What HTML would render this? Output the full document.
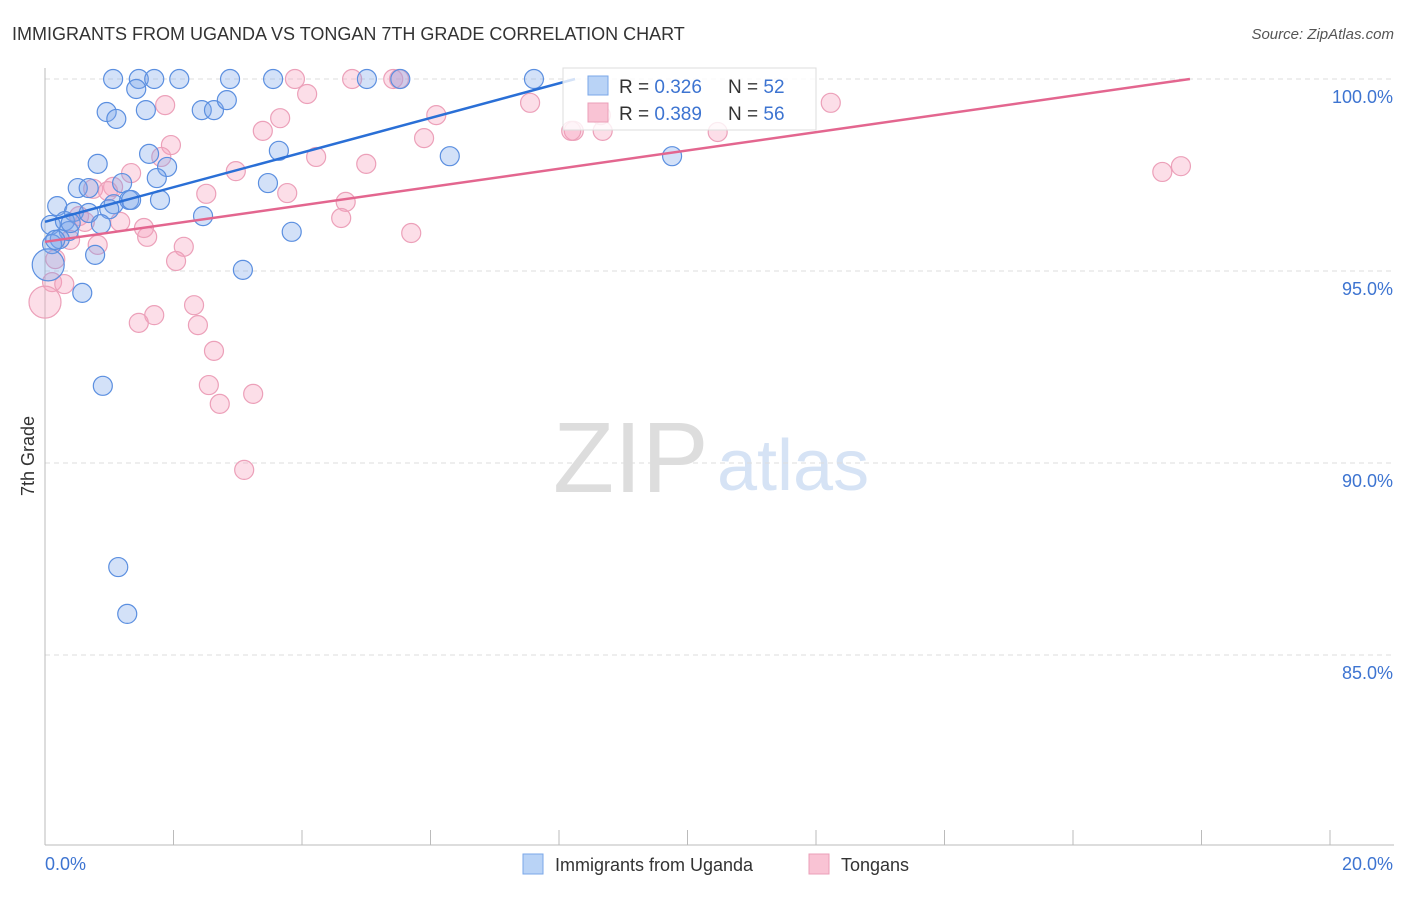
<!DOCTYPE html>
<html><head><meta charset="utf-8"><style>
body{margin:0;background:#fff;font-family:"Liberation Sans",sans-serif;}
svg text{font-family:"Liberation Sans",sans-serif;}
</style></head><body>
<svg width="1406" height="892" xmlns="http://www.w3.org/2000/svg">
<text x="12" y="40" font-size="18" fill="#333">IMMIGRANTS FROM UGANDA VS TONGAN 7TH GRADE CORRELATION CHART</text>
<text x="1394" y="39" font-size="15" fill="#555" font-style="italic" text-anchor="end">Source: ZipAtlas.com</text>
<g>
<text x="553" y="492" font-size="100" fill="#ddd" font-family="Liberation Serif, serif">ZIP</text>
<text x="717" y="490" font-size="72" fill="#d6e3f5">atlas</text>
</g>
<g id="grid"></g>
<g id="axes"></g>
<g id="marks"></g>
<text x="34" y="456" font-size="18" fill="#333" transform="rotate(-90 34 456)" text-anchor="middle">7th Grade</text>
<g>
<rect x="563" y="68" width="253" height="62" fill="#fff" fill-opacity="0.8" stroke="#ddd"/>
<rect x="588" y="76" width="20" height="19" fill="#b9d3f6" stroke="#7aa7e8"/>
<rect x="588" y="103" width="20" height="19" fill="#f9c3d4" stroke="#eb9fb8"/>
<text x="619" y="93" font-size="19" fill="#333">R = <tspan fill="#3d74d1">0.326</tspan></text>
<text x="728" y="93" font-size="19" fill="#333">N = <tspan fill="#3d74d1">52</tspan></text>
<text x="619" y="120" font-size="19" fill="#333">R = <tspan fill="#3d74d1">0.389</tspan></text>
<text x="728" y="120" font-size="19" fill="#333">N = <tspan fill="#3d74d1">56</tspan></text>
</g>
<g>
<rect x="523" y="854" width="20" height="20" fill="#b9d3f6" stroke="#7aa7e8"/>
<text x="555" y="871" font-size="18" fill="#333">Immigrants from Uganda</text>
<rect x="809" y="854" width="20" height="20" fill="#f9c3d4" stroke="#eb9fb8"/>
<text x="841" y="871" font-size="18" fill="#333">Tongans</text>
</g>
</svg>
<script>
const xTicks=[0,2,4,6,8,10,12,14,16,18,20];
const yTicks=[100,95,90,85];
const yTickLabels=["100.0%","95.0%","90.0%","85.0%"];
const ugX=[1.06,1.46,1.70,2.09,2.88,3.55,5.01,5.53,7.61,1.42,0.96,1.11,1.57,2.44,2.63,2.83,1.62,0.82,1.90,1.74,3.64,6.30,9.76,0.51,1.20,3.47,0.68,1.07,1.31,1.79,0.19,0.45,0.68,1.00,2.46,0.09,0.31,0.87,0.37,0.23,0.11,0.78,3.84,3.08,0.58,0.90,1.14,1.28,0.05,0.40,1.34,0.16];
const ugY=[100,100,100,100,100,100,100,100,100,99.74,99.14,98.96,99.19,99.19,99.19,99.45,98.05,97.79,97.71,97.42,98.13,97.99,97.99,97.16,97.29,97.29,97.16,96.74,96.85,96.85,96.69,96.54,96.51,96.61,96.43,96.20,96.30,96.22,96.04,95.83,95.70,95.42,96.02,95.03,94.43,92.01,87.29,86.07,95.16,96.25,96.85,95.81];
const toX=[3.89,4.78,5.42,5.51,1.87,4.08,7.55,12.23,6.09,3.66,3.39,1.96,5.90,8.23,8.65,10.47,1.81,4.22,5.00,2.97,1.34,17.39,17.68,1.06,2.51,3.77,0.75,0.98,4.68,0.53,1.17,1.59,1.54,4.61,5.70,0.39,0.82,2.16,2.04,0.16,0.11,0.30,0.00,2.32,2.38,1.70,1.46,2.63,2.55,2.72,3.24,3.10,8.68,8.19,0.62];
const toY=[100,100,100,100,99.32,99.61,99.38,99.38,99.06,98.98,98.65,98.28,98.46,98.65,99.06,98.62,97.97,97.97,97.79,97.60,97.55,97.58,97.73,97.19,97.01,97.03,97.14,97.08,96.80,96.43,96.28,95.89,96.12,96.38,95.99,95.81,95.68,95.63,95.26,95.31,94.71,94.66,94.19,94.11,93.59,93.85,93.65,92.92,92.03,91.54,91.80,89.82,98.65,98.65,96.28];
const ugTrend=[0,96.28,8.25,100];
const toTrend=[0,95.76,17.82,100];
const ugBig=[48];const toBig=[42];
const NS="http://www.w3.org/2000/svg";
const sx=v=>45+v*64.25, sy=v=>79+(100-v)*38.4;
function mk(tag,attrs,parent){const e=document.createElementNS(NS,tag);for(const k in attrs)e.setAttribute(k,attrs[k]);parent.appendChild(e);return e;}
const grid=document.getElementById('grid'),axes=document.getElementById('axes'),marks=document.getElementById('marks');
yTicks.forEach((t,i)=>{
 const l=mk('line',{x1:45,x2:1394,y1:sy(t),y2:sy(t),stroke:'#ddd','stroke-dasharray':'5,4'},grid);
 
 
 const tx=mk('text',{x:1393,y:sy(t)+24,'font-size':18,fill:'#3d74d1','text-anchor':'end'},axes);
 tx.textContent=yTickLabels[i];
 
 
});
mk('line',{x1:45,x2:45,y1:68,y2:845,stroke:'#bbb'},axes);
mk('line',{x1:45,x2:1394,y1:845,y2:845,stroke:'#bbb'},axes);
xTicks.forEach(t=>{const l=mk('line',{x1:sx(t),x2:sx(t),y1:830,y2:845,stroke:'#bbb'},axes);
 
 });
const xl0=mk('text',{x:45,y:870,'font-size':18,fill:'#3d74d1'},axes);xl0.textContent=xTicks[0].toFixed(1)+'%';


const xl1=mk('text',{x:1393,y:870,'font-size':18,fill:'#3d74d1','text-anchor':'end'},axes);xl1.textContent=xTicks[xTicks.length-1].toFixed(1)+'%';


function pts(X,Y,big,fill,stroke,name){X.forEach((x,i)=>{const c=mk('circle',{cx:sx(x),cy:sy(Y[i]),r:big.includes(i)?16:9.5,fill:fill,stroke:stroke,'stroke-width':1.2},marks);
 
 });}
pts(toX,toY,toBig,'rgba(245,160,190,0.35)','#eca0b9','point-tongans');
pts(ugX,ugY,ugBig,'rgba(120,165,235,0.33)','#5b8fe0','point-uganda');
const l1=mk('line',{x1:sx(ugTrend[0]),y1:sy(ugTrend[1]),x2:sx(ugTrend[2]),y2:sy(ugTrend[3]),stroke:'#2a6fd6','stroke-width':2.5},marks);


const l2=mk('line',{x1:sx(toTrend[0]),y1:sy(toTrend[1]),x2:sx(toTrend[2]),y2:sy(toTrend[3]),stroke:'#e3668f','stroke-width':2.5},marks);


</script>
</body></html>
